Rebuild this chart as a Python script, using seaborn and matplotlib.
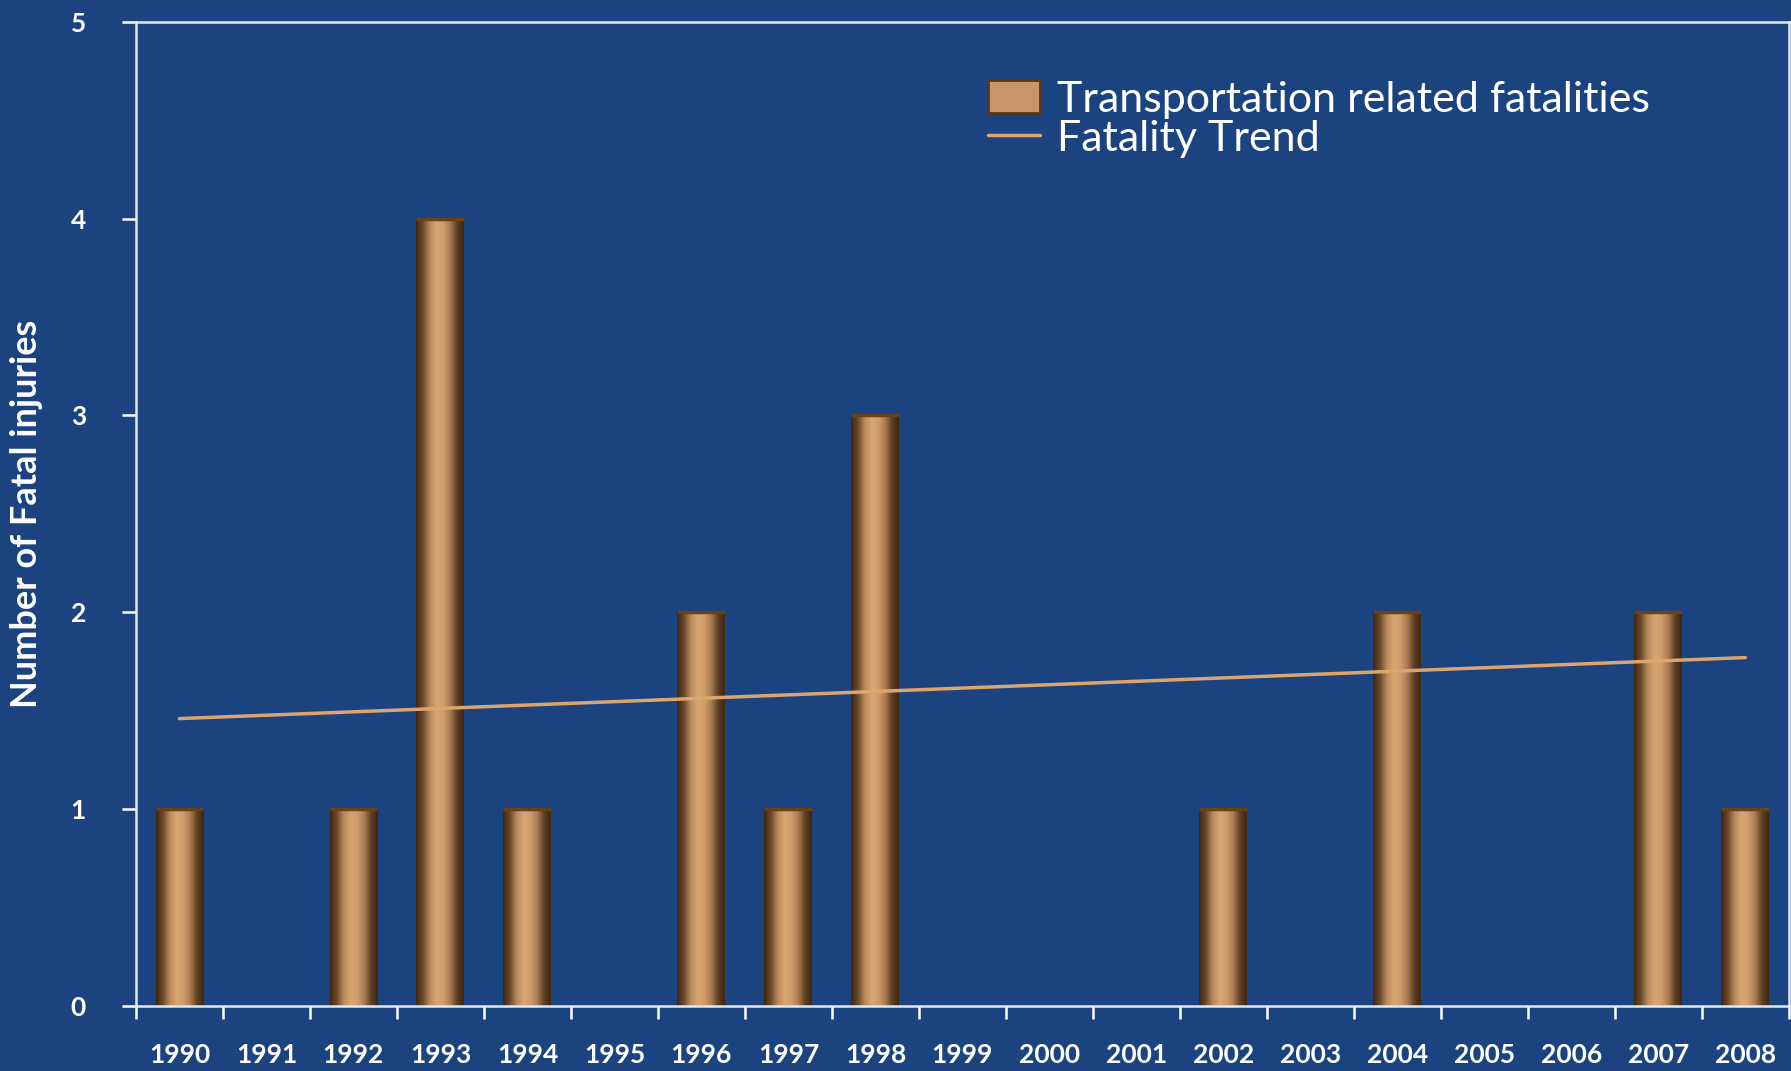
import numpy as np
import pandas as pd
import seaborn as sns
import matplotlib.pyplot as plt
from matplotlib.colors import LinearSegmentedColormap
from matplotlib.patches import Patch
from matplotlib.lines import Line2D

years = [str(y) for y in range(1990, 2009)]
fatalities = [1, 0, 1, 4, 1, 0, 2, 1, 3, 0, 0, 0, 1, 0, 2, 0, 0, 2, 1]
trend_years = ['1990', '2008']
trend_values = [1.46, 1.77]

bg = '#1B4380'
tan = '#D09D6C'
white = '#FFFFFF'

sns.set_style("dark")
plt.rcParams['font.family'] = ['Lato', 'DejaVu Sans']

fig = plt.figure(figsize=(17.91, 10.71), dpi=100)
fig.patch.set_facecolor(bg)
ax = fig.add_axes([0.0759, 0.0607, 0.9229, 0.919])
ax.set_facecolor(bg)

df = pd.DataFrame({'year': years, 'value': fatalities})
sns.barplot(data=df, x='year', y='value', color=tan, width=0.55, ax=ax,
            saturation=1, edgecolor='none', linewidth=0)

# cylinder-like shading on each bar
shade = LinearSegmentedColormap.from_list(
    'shade', ['#3E2610', '#6B4A2A', '#B8895C', '#D6A673', '#D09D6C', '#A97C52', '#5E4024', '#3E2610'])
grad = np.linspace(0, 1, 256).reshape(1, -1)
for p in ax.patches:
    x0, y0 = p.get_x(), p.get_y()
    w, h = p.get_width(), p.get_height()
    if h <= 0:
        continue
    im = ax.imshow(grad, cmap=shade, aspect='auto', extent=(x0, x0 + w, y0, y0 + h),
                   zorder=p.get_zorder() + 0.1, interpolation='bicubic')
    im.set_clip_path(p)
    ax.plot([x0, x0 + w], [h, h], color='#6A4218', lw=2.5, zorder=p.get_zorder() + 0.2,
            solid_capstyle='butt')

pos = [years.index(y) for y in trend_years]
ax.plot(pos, trend_values, color='#DDA56E', lw=2.5, zorder=5)

ax.set_xlim(-0.5, len(years) - 0.5)
ax.set_ylim(0, 5)
ax.set_yticks(range(6))

ax.set_xticks(range(len(years)))
ax.set_xticklabels(years)
ax.set_xticks(np.arange(-0.5, len(years)), minor=True)
ax.tick_params(axis='x', which='major', bottom=True, length=0, pad=27, labelsize=19,
               labelcolor=white)
ax.tick_params(axis='x', which='minor', bottom=True, length=9, width=1.8, color=white,
               direction='out')
ax.tick_params(axis='y', left=True, length=10, width=1.8, color=white, pad=26,
               labelsize=19, labelcolor=white, direction='out')
for lab in ax.get_xticklabels() + ax.get_yticklabels():
    lab.set_fontweight('bold')

for side in ['left', 'bottom', 'top', 'right']:
    ax.spines[side].set_visible(True)
    ax.spines[side].set_color('#E4E9F2')
    ax.spines[side].set_linewidth(1.8)
ax.grid(False)

ax.set_xlabel('')
ax.set_ylabel('Number of Fatal injuries', color=white, fontsize=26, fontweight='bold')
ax.yaxis.set_label_coords(-0.056, 0.5)

handles = [Patch(facecolor='#C8966A', edgecolor='#5A3612', linewidth=2),
           Line2D([0], [0], color='#DDA56E', lw=2.5)]
leg = ax.legend(handles, ['Transportation related fatalities', 'Fatality Trend'],
                loc='upper left', bbox_to_anchor=(0.505, 0.958), frameon=False,
                fontsize=31, labelcolor=white, handlelength=1.2, handleheight=0.8,
                handletextpad=0.4, labelspacing=0.02, borderaxespad=0)

plt.savefig('out.png', dpi=100, facecolor=bg)
plt.close()
